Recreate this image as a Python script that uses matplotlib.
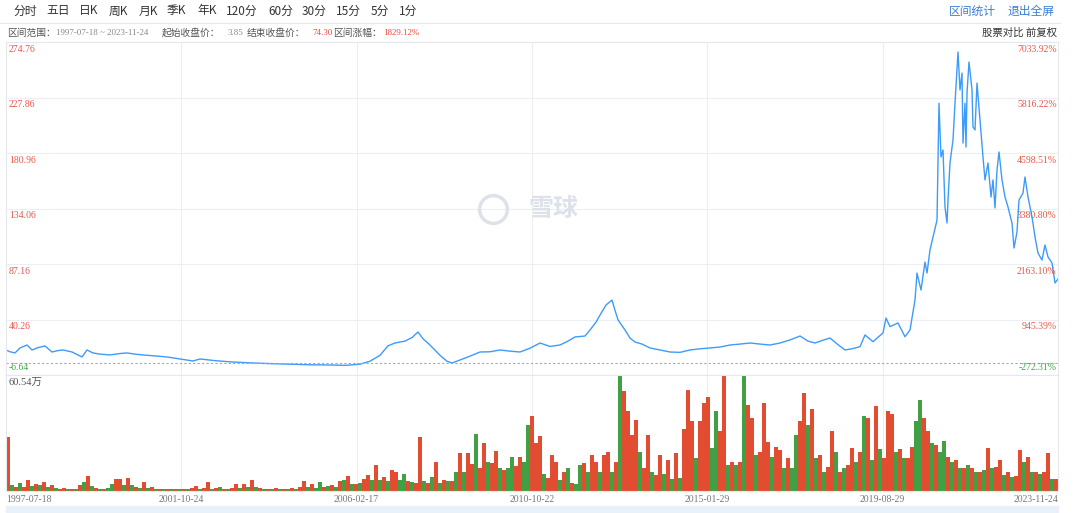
import numpy as np
import matplotlib
matplotlib.use('Agg')
import matplotlib.pyplot as plt
from matplotlib.lines import Line2D
from matplotlib.patches import Rectangle

CJK = ['Noto Sans CJK SC', 'DejaVu Sans']
SERIF = ['Liberation Serif', 'Noto Sans CJK SC']
plt.rcParams['font.family'] = CJK

# trading-day index (0 = 1997-07-18) and forward-adjusted close
price_day = [0, 24, 54, 84, 126, 156, 192, 234, 276, 312, 342, 396, 456, 486, 522, 564,
             624, 684, 726, 774, 822, 894, 966, 1044, 1122, 1164, 1254, 1344, 1464, 1584,
             1704, 1824, 1944, 2034, 2124, 2184, 2244, 2292, 2334, 2394, 2436, 2472, 2502,
             2544, 2604, 2646, 2676, 2724, 2772, 2844, 2904, 2964, 3024, 3084, 3144, 3204,
             3264, 3324, 3372, 3414, 3474, 3504, 3540, 3564, 3600, 3636, 3654, 3672, 3714,
             3744, 3774, 3816, 3864, 3924, 3984, 4044, 4104, 4164, 4224, 4284, 4344, 4404,
             4464, 4524, 4584, 4644, 4704, 4764, 4812, 4854, 4896, 4944, 4992, 5034, 5076,
             5124, 5154, 5202, 5262, 5280, 5304, 5352, 5394, 5424, 5454, 5466, 5490, 5514,
             5526, 5544, 5562, 5586, 5598, 5610, 5622, 5634, 5646, 5652, 5664, 5682, 5694,
             5706, 5712, 5724, 5736, 5742, 5754, 5760, 5766, 5778, 5796, 5802, 5814, 5826,
             5844, 5862, 5874, 5892, 5910, 5922, 5934, 5946, 5958, 5976, 5994, 6012, 6036,
             6048, 6066, 6078, 6102, 6114, 6132, 6156, 6174, 6192, 6216, 6234, 6252, 6276,
             6294, 6311]
price = [14.5, 13.0, 12.0, 16.2, 18.7, 14.5, 16.5, 17.9, 12.8, 14.0, 14.5, 12.8, 8.6, 14.5,
         12.0, 11.0, 10.3, 11.5, 12.0, 11.0, 10.3, 9.5, 8.6, 6.9, 5.2, 6.9, 5.5, 4.5, 3.6,
         3.0, 2.5, 2.0, 1.8, 1.5, 2.5, 5.0, 10.0, 18.0, 20.4, 22.0, 25.0, 29.7, 24.0, 18.7,
         10.0, 5.0, 3.5, 6.0, 8.6, 12.8, 13.0, 14.5, 13.5, 12.8, 16.0, 20.4, 17.5, 18.7,
         22.0, 25.5, 26.3, 31.4, 38.0, 44.0, 52.5, 56.7, 48.0, 40.0, 31.4, 24.6, 21.2, 19.5,
         16.2, 14.5, 12.8, 12.5, 14.5, 15.5, 16.2, 17.0, 18.7, 19.5, 20.4, 19.5, 18.7, 20.4,
         23.0, 26.3, 22.0, 20.4, 22.5, 24.6, 19.0, 14.5, 15.5, 17.3, 27.2, 21.5, 28.9, 41.5,
         34.2, 37.3, 25.7, 31.4, 56.7, 79.5, 65.2, 88.8, 79.5, 99.0, 110.0, 124.3, 223.0,
         177.6, 183.5, 135.3, 121.8, 141.2, 172.5, 192.0, 223.0, 251.0, 266.3, 234.2, 248.5,
         189.4, 223.0, 186.0, 231.6, 257.8, 234.2, 203.0, 200.4, 240.0, 208.8, 177.6, 158.2,
         172.5, 143.8, 158.2, 134.5, 166.6, 181.8, 158.2, 143.8, 135.3, 121.8, 100.7, 114.2,
         141.2, 147.1, 160.7, 143.8, 126.9, 110.0, 96.4, 90.5, 103.2, 93.1, 88.0, 71.1, 74.3]

# volume (万), one value per 24 trading days
volume = [28.4, 3, 2, 4.2, 2, 6.0, 2.5, 3.5, 3, 4.7, 2, 3, 1.5, 1.2, 1.8, 1, 1, 1.2, 3, 4.7,
          7.9, 2.5, 1.5, 1.2, 1, 1.5, 3.5, 6.5, 6.2, 3, 6.8, 3, 2, 1.5, 4.7, 1.5, 2, 1, 1.2,
          0.8, 1, 0.8, 1.2, 0.8, 1, 0.8, 1.5, 2.5, 1.2,
          1.5, 4.7, 1, 1.5, 2, 1, 1, 1.5, 3.9, 1.5, 3.9, 2, 5.6, 2, 1.5, 1, 1.2, 1, 1.5, 1,
          1.2, 1, 1.5, 1.2, 2,
          5.1, 2, 3.5, 1.5, 4.7, 2, 2.8, 3, 2, 5, 6, 7.9, 3.9, 3.5, 4, 6.5, 8.6, 5.5, 13.5,
          5.6, 7.4, 5, 10.9, 10, 6,
          9.1, 5, 4.7, 4, 28.1, 5, 4, 7.4, 15.3, 4, 5.6, 5, 5.3, 10, 19.7, 10, 19.7, 14, 29.7,
          12, 25.3, 15, 14.5, 21, 12,
          11, 12, 17.9, 13, 17.9, 15, 34.2, 39, 25, 28.8, 9, 7, 18.8, 15.3, 5.6, 10, 12, 4,
          3.9, 13.5, 14.4, 10, 18.8, 15, 10,
          18.8, 20.2, 10, 15, 60.5, 52.1, 41.6, 29.3, 37.2, 20.5, 12, 29.3, 10, 8.2, 18.8, 9,
          16, 6.5, 19.7, 7, 32.5, 52.5, 36.3, 17, 36.3,
          46, 49, 22.3, 42, 31.1, 60, 13.5, 15, 13.5, 15, 60, 45, 38, 18.8, 20.5, 46, 25.4,
          18, 23, 21.4, 12, 17, 11.8, 29.3, 36.3,
          50.9, 34.6, 42.8, 17, 18.8, 10, 12.5, 31.1, 20.5, 10, 12, 13.5, 22.3, 15, 20.5, 39,
          38, 16.1, 44.2, 22, 17, 42, 40.2, 20.5, 22,
          17, 17, 23, 36.3, 47.7, 38, 31.1, 25, 24, 20.5, 26.1, 18, 15.3, 16, 12, 11.8, 13.5,
          11.8, 10, 10, 11, 22.6, 12, 12.5, 16.1,
          8.2, 10, 7.4, 8, 21.4, 15.3, 17.9, 10, 10, 9, 10, 19.7, 6.5, 6.5]
# r = close up (red), g = close down (green)
vol_dir = ('rgrgrrgrgr' 'grgrrgrgrg' 'rgrgrggrrg' 'rgrgrgrgrg' 'rgrgrgrrg'
           'rrgrgrgrrgrgrgrgrgrgrgrgr'
           'rgrggrgrgrgrgrgrrgrgrgrrg'
           'grgrrgrgrgrgrgrgrrgrrgrrg'
           'rggrrggrrrgrrrgrgrggrgrrg'
           'rrgrgrrrrgrrgrrgrgrgrrrgr'
           'rrggrrgrgrgrrgrrrgrrgrggr'
           'rgrgrgrrgrgrrgrgrgrgrrrgr'
           'grrggrrgrggrgrgrgrgrgrgrr'
           'grgrrgrgrgrrgr')
assert len(volume) == len(vol_dir)

ticks_day = [0, 1052, 2104, 3156, 4208, 5260, 6312]
tick_dates = ['1997-07-18', '2001-10-24', '2006-02-17', '2010-10-22',
              '2015-01-29', '2019-08-29', '2023-11-24']
price_ticks = [274.76, 227.86, 180.96, 134.06, 87.16, 40.26, -6.64]
pct_ticks = ['7033.92%', '5816.22%', '4598.51%', '3380.80%', '2163.10%', '945.39%', '-272.31%']
base_close = 3.85
vol_max = 60.54

RED_TXT = '#e8574a'
GREEN_TXT = '#45a84a'
GRID = '#eceef3'
W, H = 1080, 513


def fx(x):
    return x / W


def fy(y):
    return 1 - y / H


fig = plt.figure(figsize=(10.8, 5.13), dpi=100)
fig.patch.set_facecolor('white')

ax = fig.add_axes([fx(6), fy(375), fx(1052), 333 / H])
axv = fig.add_axes([fx(6), fy(491), fx(1052), 116 / H])

# price line
ax.plot(price_day, price, color='#3d9bfa', lw=1.0)
ax.axhline(base_close, color='#a8a8a8', lw=0.8, ls=(0, (2, 2)))
ax.set_xlim(0, ticks_day[-1])
ax.set_ylim(price_ticks[-1], price_ticks[0])
for p in price_ticks[1:-1]:
    ax.axhline(p, color=GRID, lw=0.8, zorder=0)
for d in ticks_day[1:-1]:
    ax.axvline(d, color=GRID, lw=0.8, zorder=0)
    axv.axvline(d, color=GRID, lw=0.8, zorder=0)

for i, (p, pc) in enumerate(zip(price_ticks, pct_ticks)):
    col = GREEN_TXT if p < 0 else RED_TXT
    va = 'bottom' if i == len(price_ticks) - 1 else 'top'
    off = 2 if va == 'bottom' else -2
    ax.annotate(f'{p:.2f}', (0, p), xycoords=('axes fraction', 'data'),
                xytext=(2, off), textcoords='offset points', ha='left', va=va,
                fontsize=7, color=col, family=SERIF)
    ax.annotate(pc, (1, p), xycoords=('axes fraction', 'data'),
                xytext=(-1, off), textcoords='offset points', ha='right', va=va,
                fontsize=7, color=col, family=SERIF)

# watermark
ax.plot([0.463], [0.5], marker='o', ms=20, mfc='none', mec='#dde2ea', mew=2.5,
        transform=ax.transAxes)
ax.text(0.497, 0.5, '雪球', transform=ax.transAxes, fontsize=18, color='#dde2ea',
        ha='left', va='center', fontweight='bold')

# volume bars
vol_day = np.arange(len(volume)) * 24
cols = ['#df3a1c' if c == 'r' else '#2c952f' for c in vol_dir]
axv.bar(vol_day, volume, width=24, align='edge', color=cols, alpha=0.9, linewidth=0)
axv.set_xlim(0, ticks_day[-1])
axv.set_ylim(0, vol_max)
axv.text(0.002, 0.97, f'{vol_max:.2f}万', transform=axv.transAxes, fontsize=7.5,
         color='#555555', ha='left', va='top', family=SERIF)

for a in (ax, axv):
    a.set_xticks([])
    a.set_yticks([])
    for s in a.spines.values():
        s.set_color('#e6e8ee')
        s.set_linewidth(0.8)

for i, (d, lab) in enumerate(zip(ticks_day, tick_dates)):
    ha = 'left' if i == 0 else ('right' if i == len(ticks_day) - 1 else 'center')
    axv.annotate(lab, (d, 0), xycoords=('data', 'axes fraction'), xytext=(0, -3),
                 textcoords='offset points', ha=ha, va='top', fontsize=7,
                 color='#777777', family=SERIF)

# navigator strip
fig.patches.append(Rectangle((fx(6), 0), fx(1052), 7 / H, transform=fig.transFigure,
                             color='#e9f0fa', zorder=0))

# toolbar
tools = ['分时', '五日', '日K', '周K', '月K', '季K', '年K', '120分', '60分', '30分', '15分', '5分', '1分']
tool_x = [13, 46, 79, 109, 139, 167, 197, 226, 268, 302, 336, 371, 399]
for t, x in zip(tools, tool_x):
    fig.text(fx(x), fy(11), t, fontsize=8.5, color='#333333', ha='left', va='center')
fig.text(fx(996), fy(11), '区间统计', fontsize=8.5, color='#3a7fd5', ha='right', va='center')
fig.text(fx(1054), fy(11), '退出全屏', fontsize=8.5, color='#3a7fd5', ha='right', va='center')
fig.lines.append(Line2D([0, fx(1060)], [fy(22.5), fy(22.5)], transform=fig.transFigure,
                        color='#e8e8e8', lw=0.8))

# info row
info = [('区间范围：', 7, '#555555', CJK, 7), ('1997-07-18 ~ 2023-11-24', 56, '#888888', SERIF, 6.5),
        ('起始收盘价：', 162, '#555555', CJK, 7), ('3.85', 228, '#888888', SERIF, 6.5),
        ('结束收盘价：', 247, '#555555', CJK, 7), ('74.30', 312, '#f04a3e', SERIF, 6.5),
        ('区间涨幅：', 333, '#555555', CJK, 7), ('1829.12%', 383, '#f04a3e', SERIF, 6.5)]
for t, x, c, fam, fs in info:
    fig.text(fx(x), fy(33), t, fontsize=fs, color=c, ha='left', va='center', family=fam)
fig.text(fx(1057), fy(33), '股票对比 前复权', fontsize=7.5, color='#333333',
         ha='right', va='center')

fig.savefig('out.png', dpi=100)
